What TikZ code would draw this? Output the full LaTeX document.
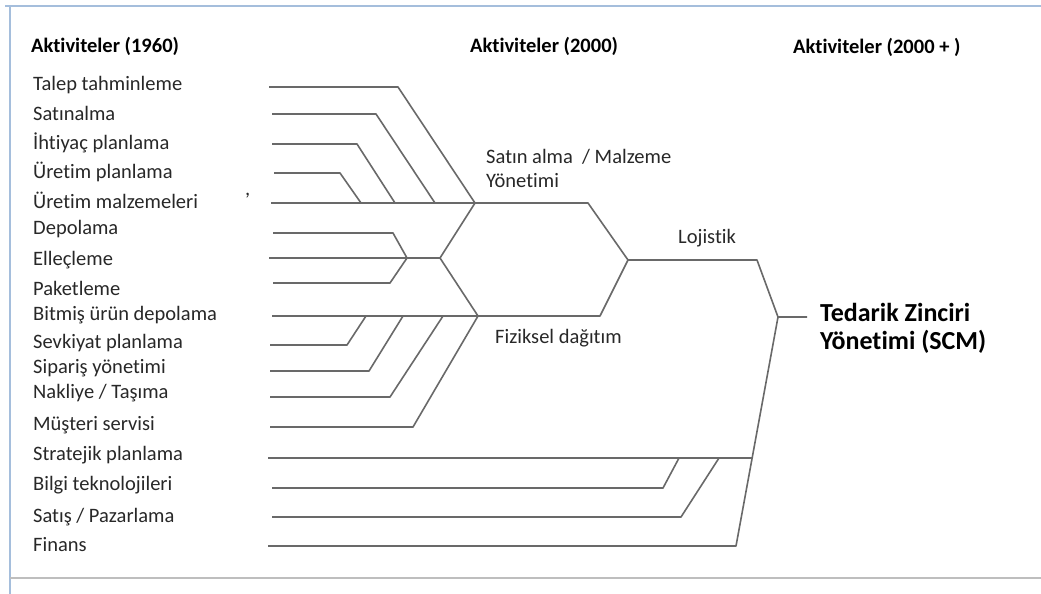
\documentclass[tikz,border=0pt]{standalone}
\usepackage{fontspec}
\setmainfont{Carlito}[Ligatures=NoCommon]
\definecolor{lc}{RGB}{105,105,105}
\definecolor{txt}{RGB}{40,40,40}
\definecolor{frameblue}{RGB}{165,190,220}
\definecolor{framegrey}{RGB}{190,190,190}
\begin{document}
\begin{tikzpicture}[x=1pt,y=-1pt,
  lbl/.style={anchor=west,inner sep=0pt,text=txt,font=\fontsize{20.5}{23}\selectfont},
  hdr/.style={anchor=west,inner sep=0pt,text=black,font=\bfseries\fontsize{20.5}{23}\selectfont},
  mid/.style={anchor=west,inner sep=0pt,text=txt,font=\fontsize{20.5}{23}\selectfont},
  big/.style={anchor=west,inner sep=0pt,text=black,font=\bfseries\fontsize{26}{30}\selectfont},
  ln/.style={draw=lc,line width=1.6pt,line join=round}]
\useasboundingbox (0,0) rectangle (1041,594);
\fill[white] (0,0) rectangle (1041,594);
% frame
\draw[frameblue,line width=1.2pt] (5,6) -- (1041,6);
\draw[frameblue,line width=1.2pt] (10,6) -- (10,594);
\draw[framegrey,line width=1.5pt] (10,578) -- (1041,578);
% headers
\node[hdr] (h1) at (31,46) {Aktiviteler (1960)};
\node[hdr] (h2) at (470,46) {Aktiviteler (2000)};
\node[hdr] (h3) at (793,47) {Aktiviteler (2000 + )};
% left labels
\node[lbl] (l1) at (33,85) {Talep tahminleme};
\node[lbl] (l2) at (33,113) {Satınalma};
\node[lbl] (l3) at (33,143) {İhtiyaç planlama};
\node[lbl] (l4) at (33,172) {Üretim planlama};
\node[lbl] (l5) at (33,200) {Üretim malzemeleri};
\node[lbl] (l6) at (33,229) {Depolama};
\node[lbl] (l7) at (33,260) {Elleçleme};
\node[lbl] (l8) at (33,288) {Paketleme};
\node[lbl] (l9) at (33,315) {Bitmiş ürün depolama};
\node[lbl] (l10) at (33,343) {Sevkiyat planlama};
\node[lbl] (l11) at (33,368) {Sipariş yönetimi};
\node[lbl] (l12) at (33,393) {Nakliye / Taşıma};
\node[lbl] (l13) at (33,425) {Müşteri servisi};
\node[lbl] (l14) at (33,455) {Stratejik planlama};
\node[lbl] (l15) at (33,485) {Bilgi teknolojileri};
\node[lbl] (l16) at (33,517) {Satış / Pazarlama};
\node[lbl] (l17) at (33,545) {Finans};
\node[lbl] (comma) at (245,196) {,};
% middle labels
\node[mid] (m1) at (486,157) {Satın alma \ / Malzeme};
\node[mid] (m1b) at (486,181) {Yönetimi};
\node[mid] (m2) at (678,238) {Lojistik};
\node[mid] (m3) at (495,338) {Fiziksel dağıtım};
\node[big] (scm1) at (820,312) {Tedarik Zinciri};
\node[big] (scm2) at (820,342) {Yönetimi (SCM)};
% line start coordinates
\coordinate (s1) at (269,87);
\coordinate (s2) at (272,114);
\coordinate (s3) at (272,144);
\coordinate (s4) at (274,173);
\coordinate (s5) at (271,203);
\coordinate (s6) at (273,233);
\coordinate (s7) at (269,258);
\coordinate (s8) at (273,283);
\coordinate (s9) at (272,316);
\coordinate (s10) at (270,345);
\coordinate (s11) at (270,371);
\coordinate (s12) at (270,397);
\coordinate (s13) at (270,427);
\coordinate (s14) at (268,458);
\coordinate (s15) at (272,488);
\coordinate (s16) at (272,517);
\coordinate (s17) at (268,546);
% junctions
\coordinate (J1) at (475,203);
\coordinate (J2) at (407,258);
\coordinate (J3) at (440,258);
\coordinate (J4) at (478,316);
\coordinate (H1) at (588,203);
\coordinate (H2) at (600,316);
\coordinate (L) at (628,260);
\coordinate (Lj) at (757,260);
\coordinate (T) at (778,317);
\coordinate (Te) at (807,317);
\coordinate (S) at (752,458);
% connectors: purchasing group
\draw[ln] (s1) -- (398,87) -- (J1);
\draw[ln] (s2) -- (376,114) -- (435,203);
\draw[ln] (s3) -- (357,144) -- (395,203);
\draw[ln] (s4) -- (340,173) -- (361,203);
\draw[ln] (s5) -- (J1) -- (H1) -- (L);
% storage group
\draw[ln] (s6) -- (393,233) -- (J2);
\draw[ln] (s7) -- (J3);
\draw[ln] (s8) -- (390,283) -- (J2);
\draw[ln] (J1) -- (J3) -- (J4);
% distribution group
\draw[ln] (s9) -- (J4) -- (H2) -- (L);
\draw[ln] (s10) -- (347,345) -- (366,316);
\draw[ln] (s11) -- (369,371) -- (403,316);
\draw[ln] (s12) -- (390,397) -- (443,316);
\draw[ln] (s13) -- (413,427) -- (J4);
% logistics to SCM
\draw[ln] (L) -- (Lj) -- (T) -- (Te);
\draw[ln] (s14) -- (S);
\draw[ln] (s15) -- (663,488) -- (679,458);
\draw[ln] (s16) -- (681,517) -- (719,458);
\draw[ln] (s17) -- (736,546) -- (T);
\end{tikzpicture}
\end{document}
